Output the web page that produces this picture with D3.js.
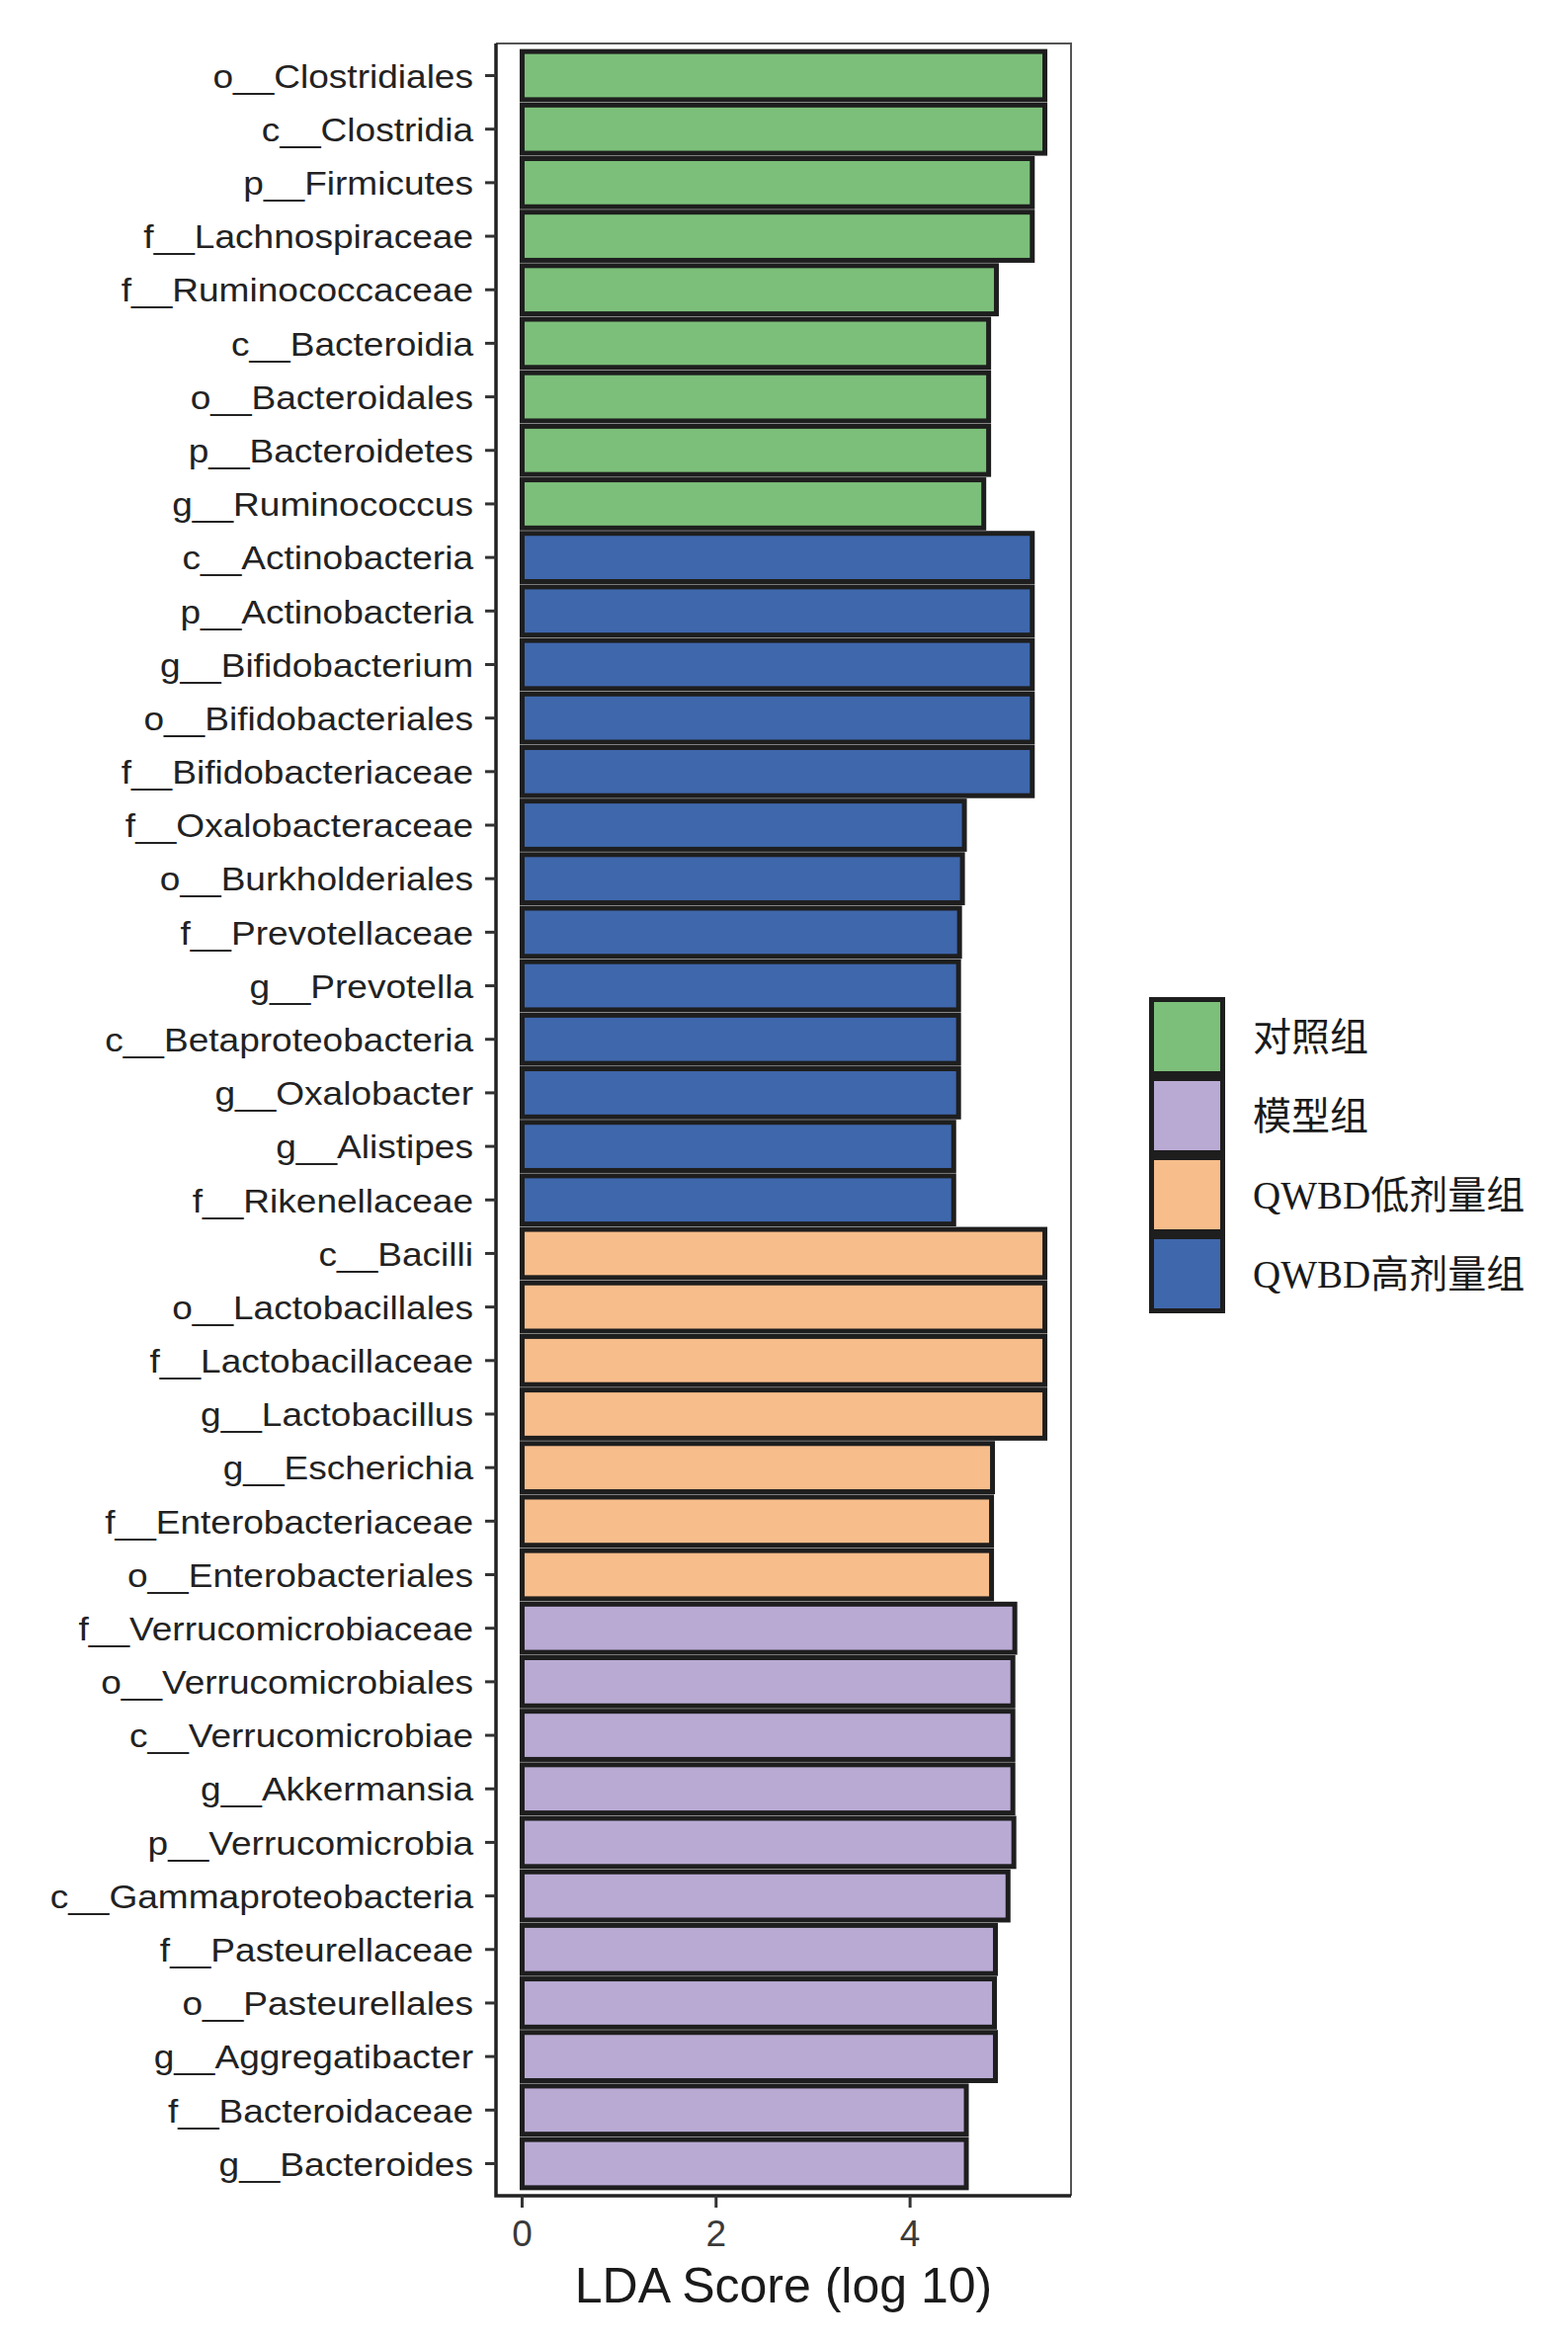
<!DOCTYPE html>
<html>
<head>
<meta charset="utf-8">
<script src="https://cdn.jsdelivr.net/npm/d3@7"></script>
<style>
  body { margin: 0; background: #fff; }
  svg { display: block; }
</style>
</head>
<body>
<svg id="chart" width="1587" height="2370"></svg>
<script>
// taxa, top to bottom
const taxa = [
  'o__Clostridiales', 'c__Clostridia', 'p__Firmicutes', 'f__Lachnospiraceae',
  'f__Ruminococcaceae', 'c__Bacteroidia', 'o__Bacteroidales', 'p__Bacteroidetes',
  'g__Ruminococcus', 'c__Actinobacteria', 'p__Actinobacteria', 'g__Bifidobacterium',
  'o__Bifidobacteriales', 'f__Bifidobacteriaceae', 'f__Oxalobacteraceae', 'o__Burkholderiales',
  'f__Prevotellaceae', 'g__Prevotella', 'c__Betaproteobacteria', 'g__Oxalobacter',
  'g__Alistipes', 'f__Rikenellaceae', 'c__Bacilli', 'o__Lactobacillales',
  'f__Lactobacillaceae', 'g__Lactobacillus', 'g__Escherichia', 'f__Enterobacteriaceae',
  'o__Enterobacteriales', 'f__Verrucomicrobiaceae', 'o__Verrucomicrobiales', 'c__Verrucomicrobiae',
  'g__Akkermansia', 'p__Verrucomicrobia', 'c__Gammaproteobacteria', 'f__Pasteurellaceae',
  'o__Pasteurellales', 'g__Aggregatibacter', 'f__Bacteroidaceae', 'g__Bacteroides'
]

const ldaScores = [
  5.39, 5.39, 5.26, 5.26, 4.89, 4.81, 4.81, 4.81, 4.76,
  5.26, 5.26, 5.26, 5.26, 5.26, 4.56, 4.54, 4.51, 4.50, 4.50, 4.50, 4.45, 4.45,
  5.39, 5.39, 5.39, 5.39, 4.85, 4.84, 4.84,
  5.08, 5.06, 5.06, 5.06, 5.07, 5.01, 4.88, 4.87, 4.88, 4.58, 4.58
]

const taxaGroup = [
  0, 0, 0, 0, 0, 0, 0, 0, 0,
  3, 3, 3, 3, 3, 3, 3, 3, 3, 3, 3, 3, 3,
  2, 2, 2, 2, 2, 2, 2,
  1, 1, 1, 1, 1, 1, 1, 1, 1, 1, 1
]

const groupNames = ['对照组', '模型组', 'QWBD低剂量组', 'QWBD高剂量组']
const groupColors = ['#7cbf7a', '#b9aad4', '#f7bd8b', '#3f67ac']

const xTicks = [0, 2, 4]
const xTitle = 'LDA Score (log 10)'

const data = taxa.map((t, i) => ({ taxon: t, score: ldaScores[i], group: taxaGroup[i] }))

const svg = d3.select('#chart')

const panel = { left: 502, right: 1084, top: 44, bottom: 2222 }

const maxScore = d3.max(ldaScores)

let x = d3.scaleLinear()
  .domain([-0.05 * maxScore, 1.05 * maxScore])
  .range([panel.left, panel.right])

let y = d3.scaleBand()
  .domain(taxa)
  .range([panel.top, panel.bottom])
  .paddingInner(0.1)
  .paddingOuter(0.15)

const sansFont = '"Liberation Sans", Arial, Helvetica, sans-serif'

// bars
svg.append('g')
  .selectAll('rect')
  .data(data)
  .join('rect')
  .attr('x', x(0))
  .attr('y', d => y(d.taxon))
  .attr('width', d => x(d.score) - x(0))
  .attr('height', y.bandwidth())
  .attr('fill', d => groupColors[d.group])
  .attr('stroke', '#1e1e1e')
  .attr('stroke-width', 5)

// panel border: thin top/right, heavier axis lines left/bottom
svg.append('path')
  .attr('d', `M${panel.left},${panel.top}H${panel.right}V${panel.bottom}`)
  .attr('fill', 'none')
  .attr('stroke', '#555')
  .attr('stroke-width', 2)

svg.append('path')
  .attr('d', `M${panel.left},${panel.top}V${panel.bottom}H${panel.right}`)
  .attr('fill', 'none')
  .attr('stroke', '#222')
  .attr('stroke-width', 3.5)

// y axis ticks + labels
let yAxis = svg.append('g')

yAxis.selectAll('line')
  .data(taxa)
  .join('line')
  .attr('x1', panel.left - 11)
  .attr('x2', panel.left)
  .attr('y1', d => y(d) + y.bandwidth() / 2)
  .attr('y2', d => y(d) + y.bandwidth() / 2)
  .attr('stroke', '#333')
  .attr('stroke-width', 3)

yAxis.selectAll('text')
  .data(taxa)
  .join('text')
  .attr('transform', d => `translate(479,${y(d) + y.bandwidth() / 2}) scale(1.09,1)`)
  .attr('dy', '0.36em')
  .attr('text-anchor', 'end')
  .style('font-family', sansFont)
  .style('font-size', '34px')
  .attr('fill', '#222')
  .text(d => d)

// x axis ticks + labels
let xAxis = svg.append('g')

xAxis.selectAll('line')
  .data(xTicks)
  .join('line')
  .attr('x1', d => x(d))
  .attr('x2', d => x(d))
  .attr('y1', panel.bottom)
  .attr('y2', panel.bottom + 12)
  .attr('stroke', '#333')
  .attr('stroke-width', 3)

xAxis.selectAll('text')
  .data(xTicks)
  .join('text')
  .attr('x', d => x(d))
  .attr('y', 2273)
  .attr('text-anchor', 'middle')
  .style('font-family', sansFont)
  .style('font-size', '37px')
  .attr('fill', '#3a3a3a')
  .text(d => d)

svg.append('text')
  .attr('x', (panel.left + panel.right) / 2)
  .attr('y', 2330)
  .attr('text-anchor', 'middle')
  .style('font-family', sansFont)
  .style('font-size', '50px')
  .attr('fill', '#1a1a1a')
  .text(xTitle)

// legend
const keyW = 77, keyH = 80
const legX = 1163, legY = 1009

let legend = svg.append('g')

legend.selectAll('rect')
  .data(groupNames)
  .join('rect')
  .attr('x', legX + 2.5)
  .attr('y', (d, i) => legY + i * keyH + 2.5)
  .attr('width', keyW - 5)
  .attr('height', keyH - 5)
  .attr('fill', (d, i) => groupColors[i])
  .attr('stroke', '#1e1e1e')
  .attr('stroke-width', 5)

legend.selectAll('text')
  .data(groupNames)
  .join('text')
  .attr('x', legX + 105)
  .attr('y', (d, i) => legY + i * keyH + keyH / 2)
  .attr('dy', '0.36em')
  .style('font-family', '"Liberation Serif", "Times New Roman", "Noto Sans CJK SC", serif')
  .style('font-size', '39px')
  .attr('fill', '#1a1a1a')
  .text(d => d)
</script>
</body>
</html>
